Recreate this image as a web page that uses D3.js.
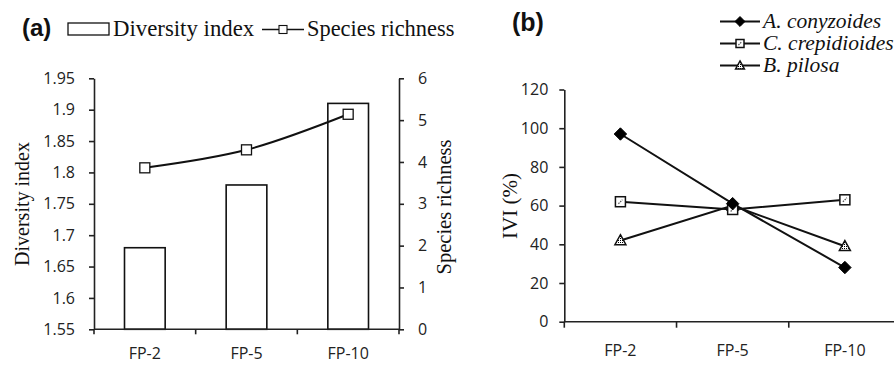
<!DOCTYPE html>
<html><head><meta charset="utf-8">
<script src="https://cdn.jsdelivr.net/npm/d3@7"></script>
<style>
body{margin:0;background:#fff;}
svg{display:block;}
.tick text{font-family:"Open Sans",sans-serif;font-size:16px;fill:#222;}
</style></head>
<body>
<svg id="c" width="894" height="365"></svg>
<script>
// ---------- data ----------
const sites = ["FP-2", "FP-5", "FP-10"];
const diversityIndex = [1.68, 1.78, 1.91];
const speciesRichness = [3.86, 4.29, 5.14];
const diversityTicks = [1.55, 1.6, 1.65, 1.7, 1.75, 1.8, 1.85, 1.9, 1.95];
const richnessTicks = [0, 1, 2, 3, 4, 5, 6];
const ivi_conyzoides = [97, 61, 28];
const ivi_crepidioides = [62, 58, 63];
const ivi_pilosa = [42, 60, 39];
const iviTicks = [0, 20, 40, 60, 80, 100, 120];
const speciesNames = ["A. conyzoides", "C. crepidioides", "B. pilosa"];

const svg = d3.select("#c");
const defs = svg.append("defs");
const p1 = defs.append("pattern").attr("id","dots").attr("width",2).attr("height",2).attr("patternUnits","userSpaceOnUse");
p1.append("rect").attr("width",2).attr("height",2).attr("fill","#fff");
p1.append("rect").attr("width",1).attr("height",1).attr("fill","#000");

const axisColor = "#222";
function styleAxis(g){
  g.selectAll("path.domain").attr("stroke",axisColor).attr("stroke-width",1.6);
  g.selectAll(".tick line").attr("stroke",axisColor).attr("stroke-width",1.6);
}

// ---------- Panel (a) ----------
const xa = d3.scaleBand().domain(sites).range([94, 399]).padding(0);
const ya = d3.scaleLinear().domain([1.55, 1.95]).range([329.3, 78.3]);
const yr = d3.scaleLinear().domain([0, 6]).range([329.3, 78.3]);

const gA = svg.append("g");
const barW = xa.bandwidth() * 0.4;
gA.selectAll("rect.bar").data(sites).join("rect")
  .attr("x", (d) => xa(d) + xa.bandwidth()/2 - barW/2)
  .attr("y", (d,i) => ya(diversityIndex[i]))
  .attr("width", barW)
  .attr("height", (d,i) => ya(1.55) - ya(diversityIndex[i]))
  .attr("fill", "#fff").attr("stroke", "#111").attr("stroke-width", 1.6);

const axL = gA.append("g").attr("transform","translate(94,0)")
  .call(d3.axisLeft(ya).tickValues(diversityTicks).tickSize(5).tickSizeOuter(0).tickPadding(14).tickFormat(d3.format("")));
styleAxis(axL);
const axR = gA.append("g").attr("transform","translate(399,0)")
  .call(d3.axisRight(yr).tickValues(richnessTicks).tickSize(5).tickSizeOuter(0).tickPadding(14).tickFormat(d3.format("")));
styleAxis(axR);
const xEdgesA = sites.map(d => xa(d)).concat([xa.range()[1]]);
const axB = gA.append("g").attr("transform","translate(0,329.3)");
axB.append("line").attr("x1",94).attr("x2",399).attr("stroke",axisColor).attr("stroke-width",1.6);
axB.selectAll("line.t").data(xEdgesA).join("line").attr("class","t")
  .attr("x1",d=>d).attr("x2",d=>d).attr("y1",0).attr("y2",5).attr("stroke",axisColor).attr("stroke-width",1.6);
axB.selectAll("text").data(sites).join("text")
  .attr("x", d => xa(d) + xa.bandwidth()/2).attr("y", 30)
  .attr("text-anchor","middle").attr("font-family","Open Sans, sans-serif").attr("font-size",16).attr("fill","#222")
  .text(d=>d);

const lineA = d3.line().x((d,i)=> xa(sites[i]) + xa.bandwidth()/2).y(d=>yr(d)).curve(d3.curveCatmullRom.alpha(0.5));
gA.append("path").datum(speciesRichness).attr("d", lineA).attr("fill","none").attr("stroke","#111").attr("stroke-width",2);
gA.selectAll("rect.sq").data(speciesRichness).join("rect").attr("class","sq")
  .attr("x",(d,i)=> xa(sites[i]) + xa.bandwidth()/2 - 5).attr("y",d=>yr(d)-5)
  .attr("width",10).attr("height",10).attr("fill","#fff").attr("stroke","#111").attr("stroke-width",1.3);

gA.append("text").attr("transform","translate(29,204) rotate(-90)").attr("text-anchor","middle")
  .attr("font-family","Liberation Serif, serif").attr("font-size",20).attr("fill","#111").text("Diversity index");
gA.append("text").attr("transform","translate(451,207) rotate(-90)").attr("text-anchor","middle")
  .attr("font-family","Liberation Serif, serif").attr("font-size",20.5).attr("fill","#111").text("Species richness");

gA.append("text").attr("x",22).attr("y",36).attr("font-family","Liberation Sans, Arial, sans-serif")
  .attr("font-weight","bold").attr("font-size",24).attr("fill","#111").text("(a)");
gA.append("rect").attr("x",68).attr("y",23).attr("width",41).attr("height",12).attr("fill","#fff").attr("stroke","#111").attr("stroke-width",1.3);
gA.append("text").attr("x",113).attr("y",36).attr("font-family","Liberation Serif, serif").attr("font-size",22.8).attr("fill","#111").text("Diversity index");
gA.append("line").attr("x1",262).attr("x2",304).attr("y1",29.5).attr("y2",29.5).attr("stroke","#111").attr("stroke-width",1.6);
gA.append("rect").attr("x",279).attr("y",25.5).attr("width",8).attr("height",8).attr("fill","#fff").attr("stroke","#111").attr("stroke-width",1.1);
gA.append("text").attr("x",307).attr("y",36).attr("font-family","Liberation Serif, serif").attr("font-size",22.4).attr("fill","#111").text("Species richness");

// ---------- Panel (b) ----------
const xb = d3.scaleBand().domain(sites).range([564.3, 901]).padding(0);
const yb = d3.scaleLinear().domain([0, 120]).range([321.7, 89.5]);
const gB = svg.append("g");

const axLB = gB.append("g").attr("transform","translate(564.3,0)")
  .call(d3.axisLeft(yb).tickValues(iviTicks).tickSize(5).tickSizeOuter(0).tickPadding(11));
styleAxis(axLB);
const xEdgesB = sites.map(d => xb(d));
const axBB = gB.append("g").attr("transform","translate(0,321.7)");
axBB.append("line").attr("x1",564.3).attr("x2",894).attr("stroke",axisColor).attr("stroke-width",1.6);
axBB.selectAll("line.t").data(xEdgesB).join("line").attr("class","t")
  .attr("x1",d=>d).attr("x2",d=>d).attr("y1",0).attr("y2",6).attr("stroke",axisColor).attr("stroke-width",1.6);
axBB.selectAll("text").data(sites).join("text")
  .attr("x", d => xb(d) + xb.bandwidth()/2).attr("y", 34)
  .attr("text-anchor","middle").attr("font-family","Open Sans, sans-serif").attr("font-size",16).attr("fill","#222")
  .text(d=>d);

gB.append("text").attr("transform","translate(517,206) rotate(-90)").attr("text-anchor","middle")
  .attr("font-family","Liberation Serif, serif").attr("font-size",21).attr("fill","#111").text("IVI (%)");

const series = [
  {name: speciesNames[0], values: ivi_conyzoides, marker: "diamond"},
  {name: speciesNames[1], values: ivi_crepidioides, marker: "square"},
  {name: speciesNames[2], values: ivi_pilosa, marker: "triangle"}
];
const cx = (i) => xb(sites[i]) + xb.bandwidth()/2;
const lineB = d3.line().x((d,i)=>cx(i)).y(d=>yb(d));

function drawMarker(g, type, x, y, s){
  if(type==="diamond"){
    g.append("path").attr("d",`M${x},${y-s*0.62}L${x+s*0.62},${y}L${x},${y+s*0.62}L${x-s*0.62},${y}Z`).attr("fill","#000").attr("stroke","#000").attr("stroke-width",1);
  } else if(type==="square"){
    g.append("rect").attr("x",x-s/2).attr("y",y-s/2).attr("width",s).attr("height",s).attr("fill","#fff").attr("stroke","#111").attr("stroke-width",1.5);
    g.append("line").attr("x1",x-s*0.2).attr("y1",y+s*0.2).attr("x2",x+s*0.2).attr("y2",y-s*0.2).attr("stroke","#555").attr("stroke-width",1.2).attr("stroke-dasharray","1.5,1");
  } else {
    const h = s*0.95;
    g.append("path").attr("d",`M${x},${y-h*0.6}L${x+s*0.55},${y+h*0.45}L${x-s*0.55},${y+h*0.45}Z`).attr("fill","url(#dots)").attr("stroke","#111").attr("stroke-width",1.5);
  }
}

series.forEach(s=>{
  gB.append("path").datum(s.values).attr("d",lineB).attr("fill","none").attr("stroke","#111").attr("stroke-width",2);
});
[2,1,0].forEach(k=>{
  const s = series[k];
  s.values.forEach((v,i)=> drawMarker(gB, s.marker, cx(i), yb(v), 10));
});

gB.append("text").attr("x",512).attr("y",31).attr("font-family","Liberation Sans, Arial, sans-serif")
  .attr("font-weight","bold").attr("font-size",25).attr("fill","#111").text("(b)");

const legY = [21.5, 43.5, 65.5];
series.forEach((s,k)=>{
  const g = gB.append("g");
  g.append("line").attr("x1",720).attr("x2",760).attr("y1",legY[k]).attr("y2",legY[k]).attr("stroke","#111").attr("stroke-width",1.8);
  drawMarker(g, s.marker, 740, legY[k], 8);
  g.append("text").attr("x",763).attr("y",legY[k]+6.5).attr("font-family","Liberation Serif, serif").attr("font-style","italic")
    .attr("font-size",21.5).attr("fill","#111").text(s.name);
});
</script>
</body></html>
